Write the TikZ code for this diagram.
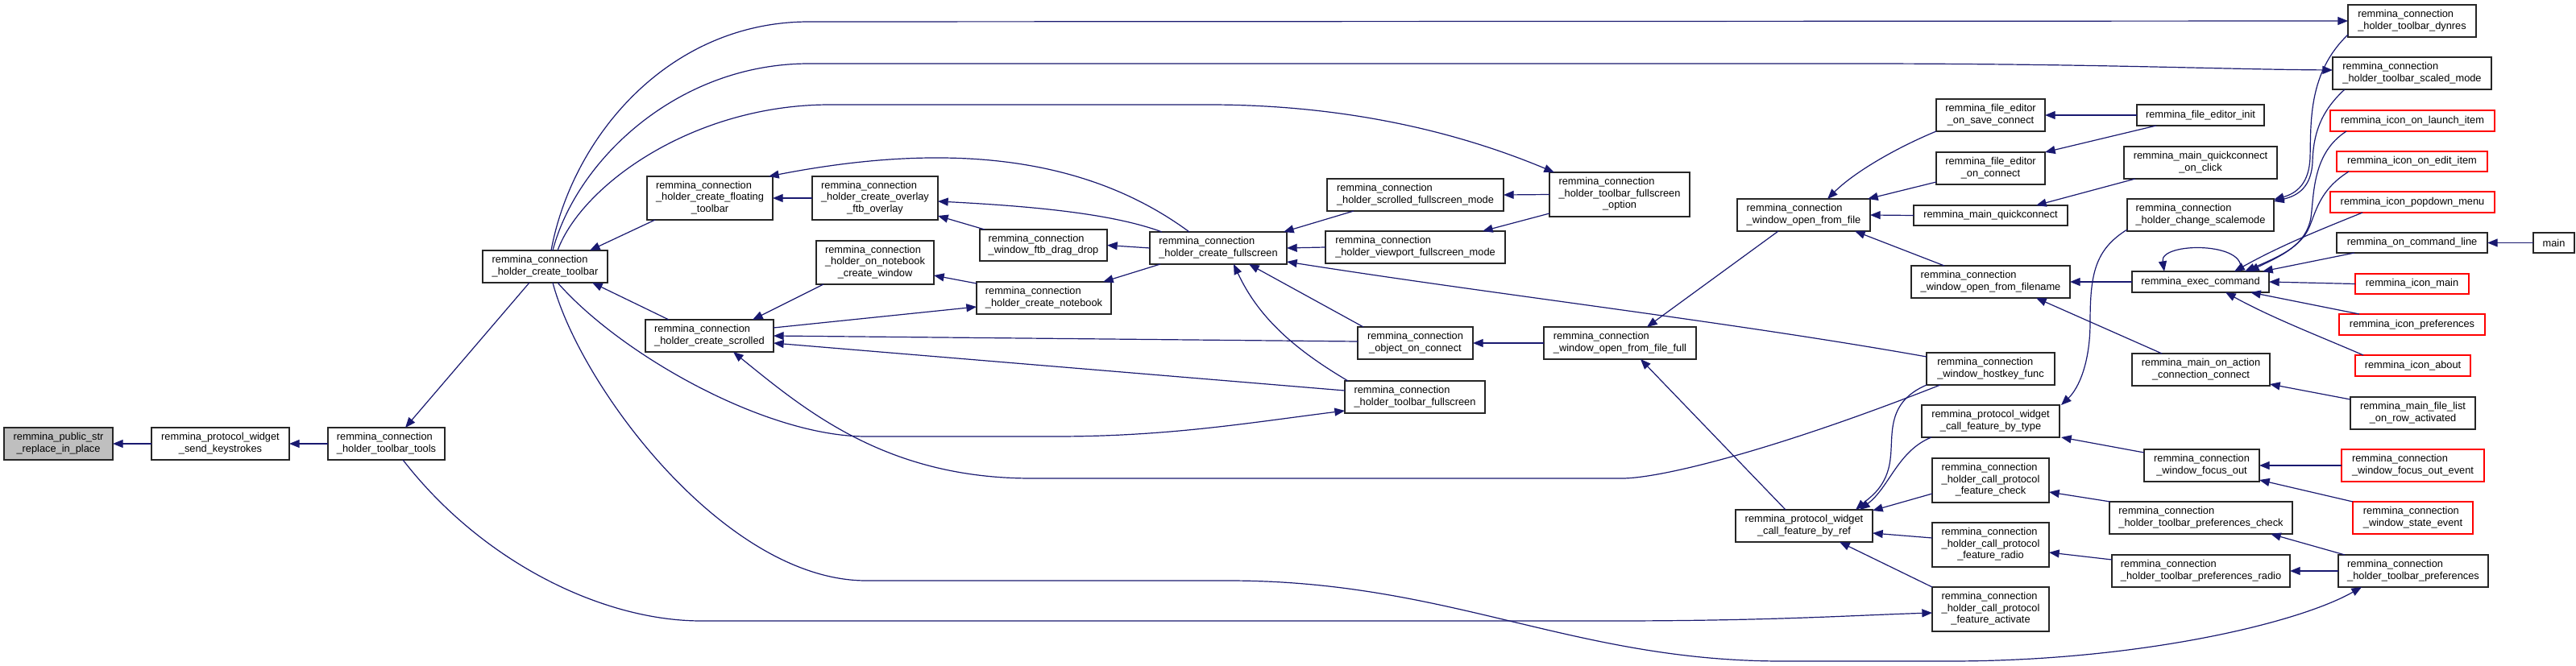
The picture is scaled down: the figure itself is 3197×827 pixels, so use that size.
\documentclass[tikz,border=0pt]{standalone}
\usepackage{fontspec}
\setmainfont{Liberation Sans}
\usetikzlibrary{arrows.meta}
\definecolor{edgec}{RGB}{25,25,112}
\definecolor{redc}{RGB}{255,0,0}
\definecolor{rootc}{RGB}{191,191,191}
\newcommand\twol[2]{\begin{tabular}{@{}l@{}}#1\\\multicolumn{1}{@{}c@{}}{#2}\end{tabular}}
\newcommand\threel[3]{\begin{tabular}{@{}l@{}}#1\\#2\\\multicolumn{1}{@{}c@{}}{#3}\end{tabular}}
\newcommand\nodebox[7]{\node[#6, minimum width={(#4-#2)*0.75pt}, minimum height={(#5-#3)*0.75pt}] (#1) at ({(#2+#4)/2},{(#3+#5)/2}) {#7};}
\tikzset{
 nbox/.style={draw=black!85, line width=1pt, fill=white, inner sep=0pt, outer sep=0pt, rectangle, font=\fontsize{9.6}{10.9}\selectfont, text=black},
 redbox/.style={nbox, draw=redc},
 rootbox/.style={nbox, fill=rootc},
 edg/.style={draw=edgec, line width=0.9pt, -{Triangle[length=9.5pt,width=7.5pt]}}
}
\begin{document}
\begin{tikzpicture}[x=0.75pt,y=-0.75pt]
\fill[white] (0,0) rectangle (3197,827);
\useasboundingbox (0,0) rectangle (3197,827);
% nodes
\nodebox{pub}{5}{531}{140}{571}{rootbox}{\twol{remmina\_public\_str}{\_replace\_in\_place}}
\nodebox{ksk}{188}{531}{359}{571}{nbox}{\twol{remmina\_protocol\_widget}{\_send\_keystrokes}}
\nodebox{tools}{407}{531}{552}{571}{nbox}{\twol{remmina\_connection}{\_holder\_toolbar\_tools}}
\nodebox{ctb}{599}{311}{754}{351}{nbox}{\twol{remmina\_connection}{\_holder\_create\_toolbar}}
\nodebox{flt}{803}{219}{959}{273}{nbox}{\threel{remmina\_connection}{\_holder\_create\_floating}{\_toolbar}}
\nodebox{ovl}{1008}{219}{1164}{273}{nbox}{\threel{remmina\_connection}{\_holder\_create\_overlay}{\_ftb\_overlay}}
\nodebox{scr}{801}{397}{960}{437}{nbox}{\twol{remmina\_connection}{\_holder\_create\_scrolled}}
\nodebox{onb}{1013}{299}{1159}{353}{nbox}{\threel{remmina\_connection}{\_holder\_on\_notebook}{\_create\_window}}
\nodebox{ddr}{1216}{285}{1374}{324}{nbox}{\twol{remmina\_connection}{\_window\_ftb\_drag\_drop}}
\nodebox{nbk}{1212}{350}{1379}{390}{nbox}{\twol{remmina\_connection}{\_holder\_create\_notebook}}
\nodebox{cfs}{1427}{288}{1597}{328}{nbox}{\twol{remmina\_connection}{\_holder\_create\_fullscreen}}
\nodebox{sfm}{1647}{222}{1866}{262}{nbox}{\twol{remmina\_connection}{\_holder\_scrolled\_fullscreen\_mode}}
\nodebox{vfm}{1645}{287}{1868}{327}{nbox}{\twol{remmina\_connection}{\_holder\_viewport\_fullscreen\_mode}}
\nodebox{tfo}{1923}{214}{2097}{269}{nbox}{\threel{remmina\_connection}{\_holder\_toolbar\_fullscreen}{\_option}}
\nodebox{ooc}{1685}{406}{1828}{446}{nbox}{\twol{remmina\_connection}{\_object\_on\_connect}}
\nodebox{tfs}{1669}{473}{1843}{513}{nbox}{\twol{remmina\_connection}{\_holder\_toolbar\_fullscreen}}
\nodebox{off}{1916}{406}{2105}{446}{nbox}{\twol{remmina\_connection}{\_window\_open\_from\_file\_full}}
\nodebox{oft}{2156}{247}{2321}{287}{nbox}{\twol{remmina\_connection}{\_window\_open\_from\_file}}
\nodebox{cfr}{2154}{633}{2324}{673}{nbox}{\twol{remmina\_protocol\_widget}{\_call\_feature\_by\_ref}}
\nodebox{sav}{2403}{123}{2538}{163}{nbox}{\twol{remmina\_file\_editor}{\_on\_save\_connect}}
\nodebox{fec}{2403}{189}{2538}{229}{nbox}{\twol{remmina\_file\_editor}{\_on\_connect}}
\nodebox{mqc}{2375}{255}{2566}{280}{nbox}{remmina\_main\_quickconnect}
\nodebox{ofn}{2372}{330}{2569}{370}{nbox}{\twol{remmina\_connection}{\_window\_open\_from\_filename}}
\nodebox{hkf}{2391}{438}{2550}{478}{nbox}{\twol{remmina\_connection}{\_window\_hostkey\_func}}
\nodebox{cft}{2385}{503}{2556}{543}{nbox}{\twol{remmina\_protocol\_widget}{\_call\_feature\_by\_type}}
\nodebox{pfc}{2398}{569}{2543}{624}{nbox}{\threel{remmina\_connection}{\_holder\_call\_protocol}{\_feature\_check}}
\nodebox{pfr}{2398}{649}{2543}{704}{nbox}{\threel{remmina\_connection}{\_holder\_call\_protocol}{\_feature\_radio}}
\nodebox{pfa}{2398}{729}{2543}{784}{nbox}{\threel{remmina\_connection}{\_holder\_call\_protocol}{\_feature\_activate}}
\nodebox{fei}{2652}{130}{2810}{156}{nbox}{remmina\_file\_editor\_init}
\nodebox{qoc}{2636}{182}{2826}{222}{nbox}{\twol{remmina\_main\_quickconnect}{\_on\_click}}
\nodebox{csm}{2640}{247}{2822}{287}{nbox}{\twol{remmina\_connection}{\_holder\_change\_scalemode}}
\nodebox{exc}{2646}{337}{2816}{363}{nbox}{remmina\_exec\_command}
\nodebox{moa}{2646}{439}{2817}{479}{nbox}{\twol{remmina\_main\_on\_action}{\_connection\_connect}}
\nodebox{wfo}{2661}{558}{2804}{598}{nbox}{\twol{remmina\_connection}{\_window\_focus\_out}}
\nodebox{tpc}{2618}{623}{2845}{663}{nbox}{\twol{remmina\_connection}{\_holder\_toolbar\_preferences\_check}}
\nodebox{tpr}{2621}{689}{2842}{729}{nbox}{\twol{remmina\_connection}{\_holder\_toolbar\_preferences\_radio}}
\nodebox{dyn}{2914}{6}{3073}{46}{nbox}{\twol{remmina\_connection}{\_holder\_toolbar\_dynres}}
\nodebox{scm}{2895}{71}{3092}{111}{nbox}{\twol{remmina\_connection}{\_holder\_toolbar\_scaled\_mode}}
\nodebox{ila}{2892}{137}{3096}{163}{redbox}{remmina\_icon\_on\_launch\_item}
\nodebox{iei}{2900}{188}{3087}{213}{redbox}{remmina\_icon\_on\_edit\_item}
\nodebox{ipm}{2892}{238}{3096}{264}{redbox}{remmina\_icon\_popdown\_menu}
\nodebox{ocl}{2900}{289}{3087}{314}{nbox}{remmina\_on\_command\_line}
\nodebox{mai}{3144}{289}{3195}{314}{nbox}{main}
\nodebox{imn}{2923}{340}{3064}{365}{redbox}{remmina\_icon\_main}
\nodebox{ipf}{2903}{390}{3084}{416}{redbox}{remmina\_icon\_preferences}
\nodebox{iab}{2923}{441}{3066}{467}{redbox}{remmina\_icon\_about}
\nodebox{mfl}{2917}{493}{3072}{533}{nbox}{\twol{remmina\_main\_file\_list}{\_on\_row\_activated}}
\nodebox{foe}{2906}{558}{3083}{598}{redbox}{\twol{remmina\_connection}{\_window\_focus\_out\_event}}
\nodebox{wse}{2920}{623}{3069}{663}{redbox}{\twol{remmina\_connection}{\_window\_state\_event}}
\nodebox{tpf}{2902}{689}{3088}{729}{nbox}{\twol{remmina\_connection}{\_holder\_toolbar\_preferences}}
% edges
\draw[edg] (ksk.west) -- (pub.east);
\draw[edg] (tools.west) -- (ksk.east);
\draw[edg] ([shift={(58,0)}]ctb.south west) -- ([shift={(96,0)}]tools.north west);
\draw[edg] ([shift={(10,0)}]flt.south west) -- ([shift={(133,0)}]ctb.north west);
\draw[edg] ([shift={(29,0)}]scr.north west) -- ([shift={(136,0)}]ctb.south west);
\draw[edg] ([shift={(85,0)}]ctb.north west) .. controls (710,170) and (830,27) .. (1004,27) -- (dyn.west);
\draw[edg] ([shift={(87,0)}]ctb.north west) .. controls (715,200) and (840,79) .. (1004,79) -- (2300,79) .. controls (2600,79) and (2750,86) .. ([shift={(0,16)}]scm.north west);
\draw[edg] ([shift={(93,0)}]ctb.north west) .. controls (722,230) and (860,130) .. (1030,130) -- (1500,130) .. controls (1660,130) and (1800,160) .. ([shift={(6,0)}]tfo.north west);
\draw[edg] ([shift={(87,0)}]ctb.south west) .. controls (720,480) and (900,721) .. (1075,721) -- (1524,721) .. controls (1800,721) and (1950,821) .. (2212,821) -- (2420,821) .. controls (2650,821) and (2850,775) .. ([shift={(29,0)}]tpf.south west);
\draw[edg] ([shift={(93,0)}]ctb.south west) .. controls (770,440) and (950,542) .. (1075,542) -- (1310,542) .. controls (1450,542) and (1550,525) .. ([shift={(0,37)}]tfs.north west);
\draw[edg] ([shift={(93,0)}]tools.south west) .. controls (600,700) and (750,771) .. (870,771) -- (2000,771) .. controls (2200,771) and (2300,764) .. ([shift={(0,32)}]pfa.north west);
\draw[edg] ([shift={(49,0)}]cfs.north west) .. controls (1350,195) and (1180,175) .. ([shift={(-5,0)}]flt.north east);
\draw[edg] (ovl.west) -- (flt.east);
\draw[edg] ([shift={(15,0)}]cfs.north west) .. controls (1380,265) and (1280,256) .. ([shift={(0,31)}]ovl.north east);
\draw[edg] ([shift={(6,0)}]ddr.north west) -- ([shift={(0,-5)}]ovl.south east);
\draw[edg] (cfs.west) -- (ddr.east);
\draw[edg] ([shift={(0,2)}]nbk.north west) -- ([shift={(0,-11)}]onb.south east);
\draw[edg] ([shift={(13,0)}]cfs.south west) -- ([shift={(-10,0)}]nbk.north east);
\draw[edg] ([shift={(9,0)}]onb.south west) -- ([shift={(133,0)}]scr.north west);
\draw[edg] ([shift={(0,10)}]scr.north east) -- ([shift={(0,31)}]nbk.north west);
\draw[edg] ([shift={(0,18)}]ooc.north west) -- ([shift={(0,20)}]scr.north east);
\draw[edg] ([shift={(0,12)}]tfs.north west) -- ([shift={(0,29)}]scr.north east);
\draw[edg] ([shift={(17,0)}]hkf.south west) .. controls (2200,560) and (2060,594) .. (2013,594) -- (1280,594) .. controls (1100,594) and (1000,510) .. ([shift={(109,0)}]scr.south west);
\draw[edg] ([shift={(33,0)}]sfm.south west) -- ([shift={(-4,0)}]cfs.north east);
\draw[edg] (vfm.west) -- (cfs.east);
\draw[edg] ([shift={(0,5)}]hkf.north west) .. controls (2150,400) and (1850,365) .. ([shift={(0,-3)}]cfs.south east);
\draw[edg] ([shift={(7,0)}]ooc.north west) -- ([shift={(123,0)}]cfs.south west);
\draw[edg] ([shift={(4,0)}]tfs.north west) .. controls (1600,430) and (1560,390) .. ([shift={(104,0)}]cfs.south west);
\draw[edg] (tfo.west) -- (sfm.east);
\draw[edg] ([shift={(0,-4)}]tfo.south west) -- ([shift={(-28,0)}]vfm.north east);
\draw[edg] (off.west) -- (ooc.east);
\draw[edg] ([shift={(62,0)}]cfr.north west) -- ([shift={(120,0)}]off.south west);
\draw[edg] ([shift={(51,0)}]oft.south west) -- ([shift={(128,0)}]off.north west);
\draw[edg] (sav.south west) .. controls (2350,185) and (2300,215) .. ([shift={(112,0)}]oft.north west);
\draw[edg] ([shift={(0,-3)}]fec.south west) -- ([shift={(-3,0)}]oft.north east);
\draw[edg] (mqc.west) -- (oft.east);
\draw[edg] ([shift={(41,0)}]ofn.north west) -- ([shift={(-19,0)}]oft.south east);
\draw[edg] (exc.west) -- (ofn.east);
\draw[edg] ([shift={(37,0)}]moa.north west) -- ([shift={(-42,0)}]ofn.south east);
\draw[edg] (fei.west) -- (sav.east);
\draw[edg] ([shift={(24,0)}]fei.south west) -- (fec.north east);
\draw[edg] ([shift={(14,0)}]qoc.south west) -- ([shift={(-39,0)}]mqc.north east);
\draw[edg] ([shift={(0,-3)}]dyn.south west) .. controls (2865,90) and (2868,150) .. (2867,195) .. controls (2866,228) and (2850,240) .. ([shift={(0,1)}]csm.north east);
\draw[edg] ([shift={(15,0)}]scm.south west) .. controls (2878,140) and (2871,170) .. (2870,200) .. controls (2869,232) and (2852,243) .. ([shift={(0,3)}]csm.north east);
\draw[edg] ([shift={(0,-2)}]csm.south west) .. controls (2600,310) and (2594,340) .. (2594,400) .. controls (2594,450) and (2580,482) .. ([shift={(2,0)}]cft.north east);
\draw[edg] ([shift={(0,4)}]wfo.north west) -- ([shift={(2,0)}]cft.south east);
\draw[edg] (hkf.south west) .. controls (2340,500) and (2350,540) .. (2346,570) .. controls (2342,605) and (2320,618) .. ([shift={(-21,0)}]cfr.north east);
\draw[edg] ([shift={(12,0)}]cft.south west) .. controls (2355,560) and (2345,605) .. ([shift={(-16,0)}]cfr.north east);
\draw[edg] ([shift={(0,44)}]pfc.north west) -- ([shift={(0,1)}]cfr.north east);
\draw[edg] ([shift={(0,19)}]pfr.north west) -- ([shift={(0,29)}]cfr.north east);
\draw[edg] (pfa.north west) -- ([shift={(-41,0)}]cfr.south east);
\draw[edg] ([shift={(1,0)}]tpc.north west) -- ([shift={(0,42)}]pfc.north east);
\draw[edg] ([shift={(0,6)}]tpr.north west) -- ([shift={(0,37)}]pfr.north east);
\draw[edg] ([shift={(8,0)}]tpf.north west) -- ([shift={(-27,0)}]tpc.south east);
\draw[edg] (tpf.west) -- (tpr.east);
\draw[edg] (foe.west) -- (wfo.east);
\draw[edg] (wse.north west) -- ([shift={(0,-2)}]wfo.south east);
\draw[edg] ([shift={(0,3)}]mfl.north west) -- ([shift={(0,-2)}]moa.south east);
\draw[edg] ([shift={(134,0)}]exc.north west) .. controls (2792,300) and (2680,300) .. ([shift={(40,0)}]exc.north west);
\draw[edg] ([shift={(20,0)}]ila.south west) .. controls (2870,190) and (2872,240) .. (2868,270) .. controls (2862,305) and (2830,318) .. ([shift={(145,0)}]exc.north west);
\draw[edg] ([shift={(15,0)}]iei.south west) .. controls (2880,235) and (2875,260) .. (2866,282) .. controls (2855,308) and (2825,320) .. ([shift={(140,0)}]exc.north west);
\draw[edg] ([shift={(40,0)}]ipm.south west) .. controls (2880,285) and (2830,305) .. ([shift={(127,0)}]exc.north west);
\draw[edg] ([shift={(22,0)}]ocl.south west) -- ([shift={(-8,0)}]exc.north east);
\draw[edg] (mai.west) -- (ocl.east);
\draw[edg] (imn.west) -- (exc.east);
\draw[edg] ([shift={(25,0)}]ipf.north west) -- ([shift={(147,0)}]exc.south west);
\draw[edg] ([shift={(10,0)}]iab.north west) .. controls (2880,418) and (2820,395) .. ([shift={(116,0)}]exc.south west);
\end{tikzpicture}
\end{document}
